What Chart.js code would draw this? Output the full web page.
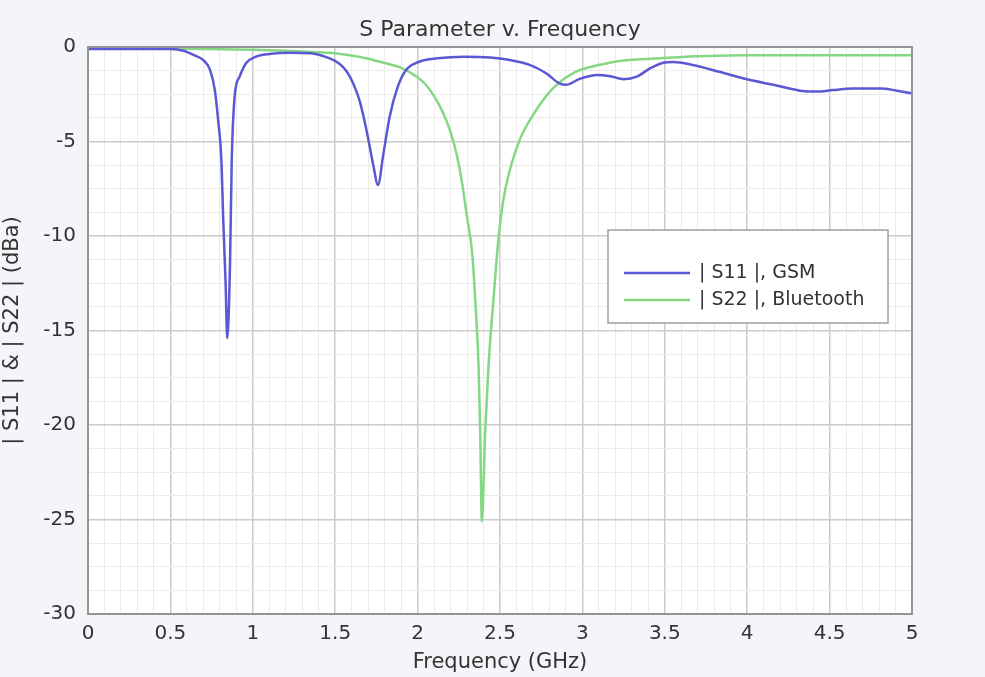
<!DOCTYPE html>
<html>
<head>
<meta charset="utf-8">
<script src="https://cdn.jsdelivr.net/npm/chart.js@4.4.1/dist/chart.umd.min.js"></script>
<style>
  html, body { margin: 0; padding: 0; background: #f4f5f8; }
  #wrap { width: 985px; height: 677px; }
</style>
</head>
<body>
<div id="wrap"><canvas id="myChart" width="985" height="677"></canvas></div>
<script>
// values
const freqS11 = [0, 0.3, 0.5, 0.58, 0.64, 0.70, 0.74, 0.77, 0.79, 0.81, 0.82, 0.835, 0.845, 0.862, 0.872, 0.89, 0.92, 0.96,
  1.02, 1.10, 1.22, 1.35, 1.45, 1.52, 1.57, 1.61, 1.65, 1.69, 1.73, 1.76, 1.79, 1.83, 1.88, 1.93, 2.01, 2.12, 2.28, 2.44, 2.56,
  2.68, 2.78, 2.86, 2.90, 2.98, 3.09, 3.17, 3.25, 3.33, 3.41, 3.49, 3.55, 3.67, 3.83, 4.0, 4.16, 4.32, 4.42, 4.52, 4.64,
  4.81, 4.91, 5.0]
const s11 = [-0.1, -0.1, -0.1, -0.2, -0.42, -0.7, -1.2, -2.3, -3.9, -6.1, -9.0, -12.5, -15.4, -11.4, -6.1, -2.6, -1.57, -0.85,
  -0.51, -0.37, -0.3, -0.33, -0.55, -0.85, -1.3, -1.95, -2.9, -4.4, -6.2, -7.3, -5.8, -3.7, -2.1, -1.22, -0.78, -0.6, -0.51, -0.55, -0.69,
  -0.95, -1.39, -1.92, -2.0, -1.7, -1.48, -1.55, -1.7, -1.57, -1.13, -0.83, -0.79, -0.95, -1.31, -1.71, -2.0, -2.31, -2.36, -2.28, -2.19,
  -2.19, -2.31, -2.45]

const freqS22 = [0, 0.5, 0.8, 1.0, 1.2, 1.4, 1.5, 1.6, 1.7, 1.8, 1.9, 2.0, 2.05, 2.1, 2.15, 2.2, 2.24, 2.27, 2.3, 2.33, 2.35, 2.37,
  2.38, 2.39, 2.41, 2.43, 2.46, 2.49, 2.52, 2.56, 2.62, 2.70, 2.78, 2.85, 2.95, 3.05, 3.15, 3.25, 3.35, 3.55, 3.75, 4.0, 4.5, 5.0]
const s22 = [-0.05, -0.07, -0.12, -0.15, -0.2, -0.28, -0.33, -0.45, -0.62, -0.85, -1.1, -1.6, -2.0, -2.6, -3.4, -4.5, -5.8, -7.2, -9.0, -10.8, -13.4, -16.9,
  -20.4, -25.1, -20.4, -16.9, -13.4, -10.2, -8.1, -6.5, -4.9, -3.6, -2.6, -1.95, -1.35, -1.05, -0.86, -0.72, -0.65, -0.55, -0.48, -0.44, -0.44, -0.44]

const seriesLabels = ['| S11 |, GSM', '| S22 |, Bluetooth']
const seriesColors = ['#5a58d2', '#84d884']
const chartTitle = 'S Parameter v. Frequency'

const fontName = '"DejaVu Sans", sans-serif'

function isMultiple(v, step) {
  return Math.abs(v / step - Math.round(v / step)) < 1e-6
}

const plotFrame = {
  id: 'plot_frame',
  beforeDraw: (chart) => {
    const {ctx, chartArea} = chart
    ctx.save()
    ctx.fillStyle = '#f4f5f8'
    ctx.fillRect(0, 0, chart.width, chart.height)
    ctx.fillStyle = '#ffffff'
    ctx.fillRect(chartArea.left, chartArea.top, chartArea.right - chartArea.left, chartArea.bottom - chartArea.top)
    ctx.restore()
  },
  afterDraw: (chart) => {
    const {ctx, chartArea} = chart
    ctx.save()
    ctx.strokeStyle = '#959595'
    ctx.lineWidth = 2
    ctx.strokeRect(chartArea.left, chartArea.top, chartArea.right - chartArea.left, chartArea.bottom - chartArea.top)

    // title, centred over the plot area
    ctx.fillStyle = '#333333'
    ctx.font = '22px ' + fontName
    ctx.textAlign = 'center'
    ctx.textBaseline = 'middle'
    ctx.fillText(chartTitle, (chartArea.left + chartArea.right) / 2, 30)

    // legend box inside the plot
    const x = chartArea.left + 520, y = chartArea.top + 183, w = 280, h = 93
    ctx.fillStyle = '#ffffff'
    ctx.fillRect(x, y, w, h)
    ctx.strokeStyle = '#a0a0a0'
    ctx.lineWidth = 1.5
    ctx.strokeRect(x, y, w, h)
    ctx.font = '19px ' + fontName
    ctx.textAlign = 'left'
    chart.data.datasets.forEach((ds, i) => {
      const ly = y + 43 + i * 27
      ctx.strokeStyle = ds.borderColor
      ctx.lineWidth = 2.5
      ctx.beginPath()
      ctx.moveTo(x + 16, ly)
      ctx.lineTo(x + 82, ly)
      ctx.stroke()
      ctx.fillStyle = '#333333'
      ctx.fillText(ds.label, x + 91, ly)
    })
    ctx.restore()
  }
}

const ctx = document.getElementById('myChart').getContext('2d')

new Chart(ctx, {
  type: 'scatter',
  data: {
    datasets: [
      {
        label: seriesLabels[0],
        data: freqS11.map((f, i) => ({x: f, y: s11[i]})),
        borderColor: seriesColors[0],
        backgroundColor: seriesColors[0],
        borderWidth: 2.5,
        showLine: true,
        pointRadius: 0,
        cubicInterpolationMode: 'monotone'
      },
      {
        label: seriesLabels[1],
        data: freqS22.map((f, i) => ({x: f, y: s22[i]})),
        borderColor: seriesColors[1],
        backgroundColor: seriesColors[1],
        borderWidth: 2.5,
        showLine: true,
        pointRadius: 0,
        cubicInterpolationMode: 'monotone'
      }
    ]
  },
  options: {
    responsive: false,
    animation: false,
    layout: { padding: { left: 0, right: 73, top: 47, bottom: 0 } },
    plugins: {
      legend: { display: false },
      tooltip: { enabled: false },
      title: { display: false }
    },
    scales: {
      x: {
        type: 'linear',
        min: 0,
        max: 5,
        afterFit: (scale) => { scale.height = 63 },
        border: { display: false },
        grid: {
          drawTicks: false,
          color: (c) => isMultiple(c.tick.value, 0.5) ? '#cbcbcb' : '#ebebeb',
          lineWidth: (c) => isMultiple(c.tick.value, 0.5) ? 1.5 : 1
        },
        ticks: {
          stepSize: 0.1,
          autoSkip: false,
          maxRotation: 0,
          padding: 8,
          color: '#333333',
          font: { family: fontName, size: 20 },
          callback: (v) => isMultiple(v, 0.5) ? String(Math.round(v * 10) / 10) : ''
        },
        title: {
          display: true,
          text: 'Frequency (GHz)',
          color: '#333333',
          font: { family: fontName, size: 21 },
          padding: { top: 0, bottom: 2 }
        }
      },
      y: {
        type: 'linear',
        min: -30,
        max: 0,
        afterFit: (scale) => { scale.width = 88 },
        border: { display: false },
        grid: {
          drawTicks: false,
          color: (c) => isMultiple(c.tick.value, 5) ? '#cbcbcb' : '#ebebeb',
          lineWidth: (c) => isMultiple(c.tick.value, 5) ? 1.5 : 1
        },
        ticks: {
          stepSize: 1.25,
          autoSkip: false,
          padding: 12,
          color: '#333333',
          font: { family: fontName, size: 20 },
          callback: (v) => isMultiple(v, 5) ? String(Math.round(v)) : ''
        },
        title: {
          display: true,
          text: '| S11 | & | S22 | (dBa)',
          color: '#333333',
          font: { family: fontName, size: 21 },
          padding: { top: 0, bottom: 0 }
        }
      }
    }
  },
  plugins: [plotFrame]
})
</script>
</body>
</html>
